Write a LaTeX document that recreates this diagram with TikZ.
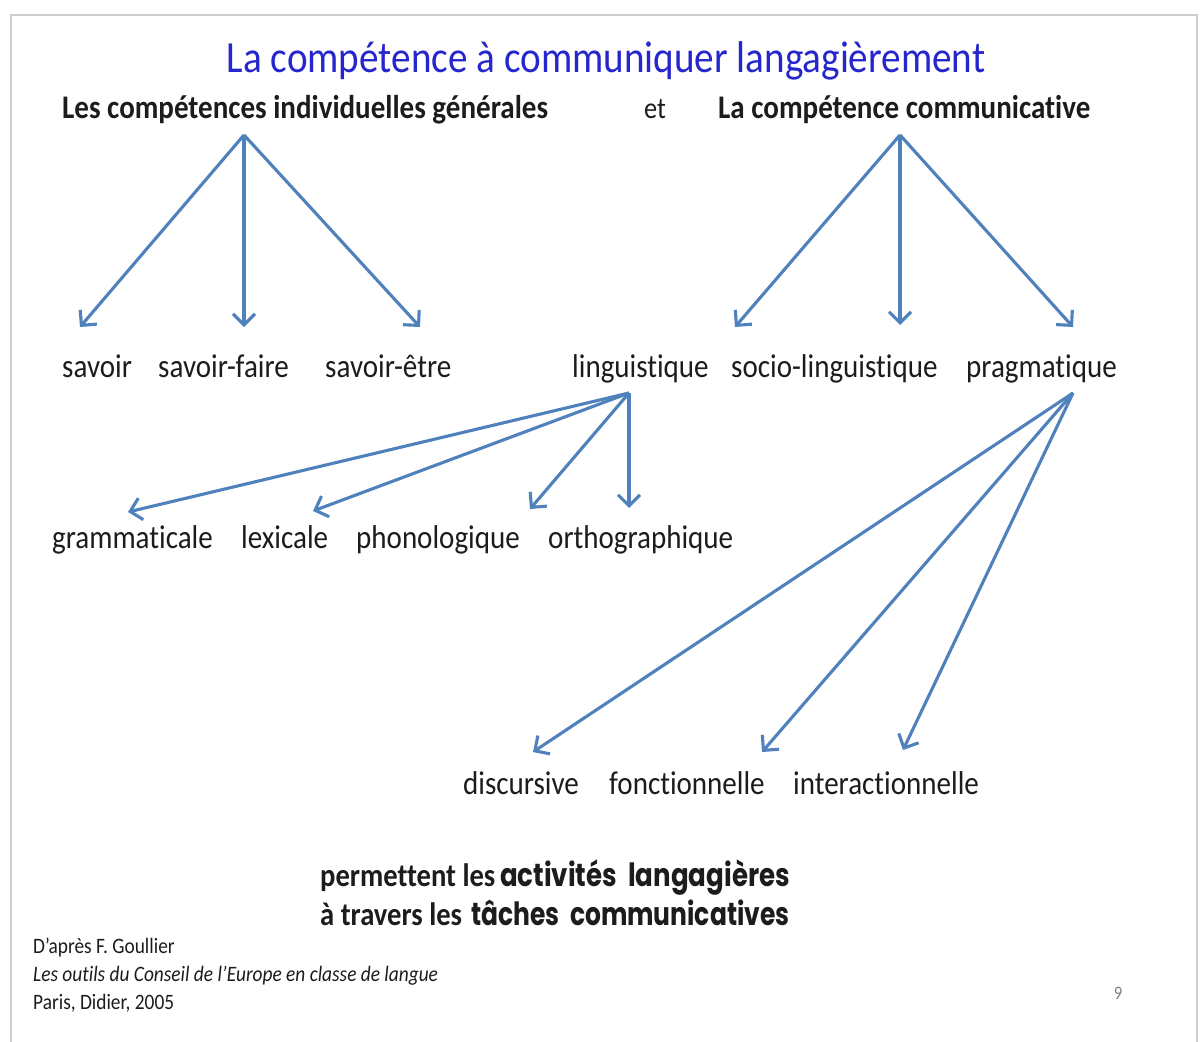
\documentclass[tikz,border=0pt]{standalone}
\usepackage{fontspec}
\setmainfont{Carlito}[FakeStretch=0.88,Ligatures=NoCommon]
\newfontfamily\comicA{Poppins}[FakeStretch=0.815]
\newfontfamily\comicB{Poppins}[FakeStretch=0.78]
\usetikzlibrary{arrows.meta}
\definecolor{arrowblue}{RGB}{79,129,189}
\definecolor{titleblue}{RGB}{38,38,205}
\definecolor{txt}{RGB}{28,28,28}
\definecolor{frame}{RGB}{205,205,205}
\begin{document}
\begin{tikzpicture}[x=1pt,y=-1pt,
  lab/.style={anchor=base west,inner sep=0pt,text=txt,font=\fontsize{33}{38}\selectfont},
  hdr/.style={anchor=base west,inner sep=0pt,text=txt,font=\bfseries\fontsize{33}{38}\selectfont},
  foot/.style={anchor=base west,inner sep=0pt,text=txt,font=\fontsize{22}{24}\selectfont},
  btm/.style={anchor=base west,inner sep=0pt,text=txt,font=\bfseries\fontsize{32.5}{36}\selectfont},
  cmc/.style={anchor=base west,inner sep=0pt,text=txt},
  arr/.style={draw=arrowblue,line width=3.1pt,
    -{Straight Barb[length=11pt,width=22pt,line width=3.1pt]}}]
\useasboundingbox (0,0) rectangle (1201,1041);
\fill[white] (0,0) rectangle (1201,1041);
\draw[frame,line width=1.5pt] (11,1045) -- (11,15) -- (1197,15) -- (1197,1045);

% title
\node[anchor=base,inner sep=0pt,text=titleblue,font=\fontsize{44.5}{50}\selectfont] (title) at (606,73) {La compétence à communiquer langagièrement};

% headers
\node[hdr] (cig) at (62,118) {Les compétences individuelles générales};
\node[lab,font=\fontsize{30}{34}\selectfont] (et) at (644,118) {et};
\node[hdr] (cc) at (718,118) {La compétence communicative};

% level 2
\node[lab] (savoir) at (62,377) {savoir};
\node[lab] (sfaire) at (158,377) {savoir-faire};
\node[lab] (setre) at (325,377) {savoir-être};
\node[lab] (ling) at (572,377) {linguistique};
\node[lab] (socio) at (731,377) {socio-linguistique};
\node[lab] (prag) at (966,377) {pragmatique};

% level 3
\node[lab] (gram) at (52,548) {grammaticale};
\node[lab] (lex) at (241,548) {lexicale};
\node[lab] (phon) at (356,548) {phonologique};
\node[lab] (orth) at (548,548) {orthographique};

% level 4
\node[lab] (disc) at (463,794) {discursive};
\node[lab] (fonc) at (609,794) {fonctionnelle};
\node[lab] (inter) at (793,794) {interactionnelle};

% bottom text
\node[btm] (perm) at (320,886) {permettent les};
\node[cmc,font=\comicA\bfseries\fontsize{32}{36}\selectfont] (act) at (500,886) {activités\ \ langagières};
\node[btm] (trav) at (320,925) {à travers les};
\node[cmc,font=\comicB\bfseries\fontsize{32}{36}\selectfont] (tach) at (471,925) {tâches\ \ communicatives};

% footnote
\node[foot] (f1) at (33,953) {D’après F. Goullier};
\node[foot,font=\itshape\fontsize{22}{24}\selectfont] (f2) at (33,981) {Les outils du Conseil de l’Europe en classe de langue};
\node[foot] (f3) at (33,1009) {Paris, Didier, 2005};
\node[inner sep=0pt,text=gray,font=\fontsize{19}{22}\selectfont] (num) at (1118,993) {9};

% arrow coordinates
\coordinate (o1) at (244,135);
\coordinate (e11) at (80,327);
\coordinate (e12) at (244,327);
\coordinate (e13) at (420,327);
\coordinate (o2) at (900,135);
\coordinate (e21) at (735,327);
\coordinate (e22) at (900,325);
\coordinate (e23) at (1073,327);
\coordinate (o3) at (629,393);
\coordinate (e31) at (128,512);
\coordinate (e32) at (313,511);
\coordinate (e33) at (530,509);
\coordinate (e34) at (629,508);
\coordinate (o4) at (1073,393);
\coordinate (e41) at (533,752);
\coordinate (e42) at (762,752);
\coordinate (e43) at (903,750);

\foreach \o/\e in {o1/e11,o1/e12,o1/e13,o2/e21,o2/e22,o2/e23,
                   o3/e31,o3/e32,o3/e33,o3/e34,o4/e41,o4/e42,o4/e43}
  \draw[arr] (\o) -- (\e);
\end{tikzpicture}
\end{document}
